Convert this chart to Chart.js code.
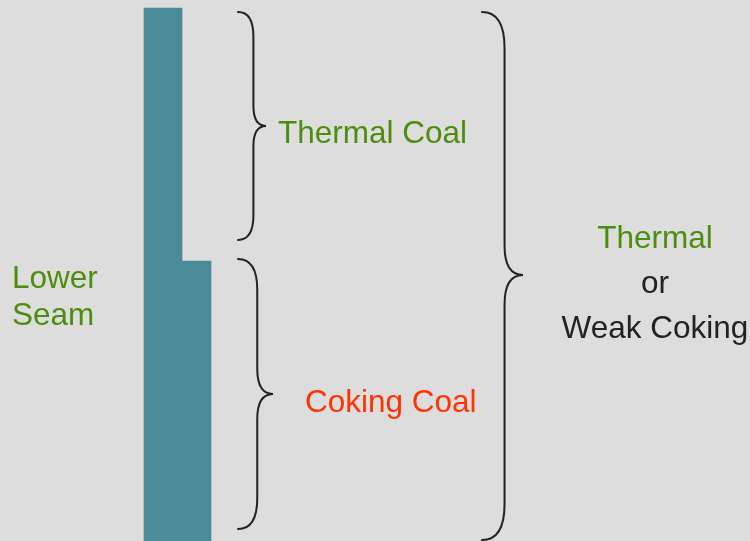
<!DOCTYPE html>
<html>
<head>
<meta charset="utf-8">
<title>Lower Seam</title>
<script src="https://cdn.jsdelivr.net/npm/chart.js@4.4.1/dist/chart.umd.min.js"></script>
<style>
  html, body { margin: 0; padding: 0; background: #dddddd; }
  #chart { display: block; }
</style>
</head>
<body>
<canvas id="chart" width="750" height="541"></canvas>
<script>
// Seam column: depth ranges (top, bottom) and where each column piece sits across
const seamNames = ['Upper part', 'Lower part'];
const seamCentres = [163, 196.5];
const seamTops = [8, 261];
const seamBottoms = [541, 541];
const seamWidths = [38, 29];

// Braces: which depth range each one spans
const braceFrom = [12, 259, 12];
const braceTo = [240, 529, 540];
const braceX = [238, 238, 482];
const braceTipX = [266, 273, 523];
const braceTipY = [126, 394, 275];

// Text labels
const labelLines = [
    ['Lower', 'Seam'],
    ['Thermal Coal'],
    ['Coking Coal'],
    ['Thermal', 'or', 'Weak Coking']
];

const BG = '#dddddd';
const BAR_COLOR = '#4a8a99';
const GREEN = '#4b8d0c';
const RED = '#ff3300';
const DARK = '#222222';
const FONT = '31.5px "Liberation Sans", Arial, sans-serif';

// Build the datasets from the arrays above
const datasets = seamNames.map((name, i) => ({
    label: name,
    data: [{ x: seamCentres[i], y: [seamTops[i], seamBottoms[i]] }],
    backgroundColor: BAR_COLOR,
    borderWidth: 0,
    barThickness: seamWidths[i],
    grouped: false
}));

// Paint the grey background
const backgroundPlugin = {
    id: 'background',
    beforeDraw: (chart) => {
        const ctx = chart.ctx;
        ctx.save();
        ctx.fillStyle = BG;
        ctx.fillRect(0, 0, chart.width, chart.height);
        ctx.restore();
    }
};

// Draw the curly braces, positioned by the scales
const bracePlugin = {
    id: 'braces',
    afterDatasetsDraw: (chart) => {
        const ctx = chart.ctx;
        const xs = chart.scales.x;
        const ys = chart.scales.y;
        ctx.save();
        ctx.strokeStyle = DARK;
        ctx.lineWidth = 2;
        ctx.lineCap = 'round';
        braceFrom.forEach((from, i) => {
            const top = ys.getPixelForValue(from);
            const bot = ys.getPixelForValue(braceTo[i]);
            const mid = ys.getPixelForValue(braceTipY[i]);
            const x0 = xs.getPixelForValue(braceX[i]);
            const x2 = xs.getPixelForValue(braceTipX[i]);
            const x1 = x0 + (x2 - x0) * 0.55;
            const rEnd = (x1 - x0) * 1.6;
            const rTip = (x2 - x1) * 1.6;
            ctx.beginPath();
            ctx.moveTo(x0, top);
            ctx.quadraticCurveTo(x1, top, x1, top + rEnd);
            ctx.lineTo(x1, mid - rTip);
            ctx.quadraticCurveTo(x1, mid, x2, mid);
            ctx.quadraticCurveTo(x1, mid, x1, mid + rTip);
            ctx.lineTo(x1, bot - rEnd);
            ctx.quadraticCurveTo(x1, bot, x0, bot);
            ctx.stroke();
        });
        ctx.restore();
    }
};

// Label placement: [x, first baseline, line gap, align, colours per line]
const labelPlaces = [
    [12, 288, 37, 'left', [GREEN, GREEN]],
    [278, 143, 0, 'left', [GREEN]],
    [305, 412, 0, 'left', [RED]],
    [655, 248, 45, 'center', [GREEN, DARK, DARK]]
];

const labelPlugin = {
    id: 'labels',
    afterDraw: (chart) => {
        const ctx = chart.ctx;
        const xs = chart.scales.x;
        const ys = chart.scales.y;
        ctx.save();
        ctx.font = FONT;
        ctx.textBaseline = 'alphabetic';
        labelLines.forEach((lines, i) => {
            const [x, y, gap, align, colours] = labelPlaces[i];
            ctx.textAlign = align;
            lines.forEach((line, j) => {
                ctx.fillStyle = colours[j];
                ctx.fillText(line, xs.getPixelForValue(x), ys.getPixelForValue(y + gap * j));
            });
        });
        ctx.restore();
    }
};

new Chart(document.getElementById('chart'), {
    type: 'bar',
    data: { datasets: datasets },
    options: {
        responsive: false,
        animation: false,
        layout: { padding: 0 },
        plugins: {
            legend: { display: false },
            tooltip: { enabled: false }
        },
        scales: {
            x: { type: 'linear', min: 0, max: 750, offset: false, display: false },
            y: { type: 'linear', min: 0, max: 541, reverse: true, display: false }
        }
    },
    plugins: [backgroundPlugin, bracePlugin, labelPlugin]
});
</script>
</body>
</html>
